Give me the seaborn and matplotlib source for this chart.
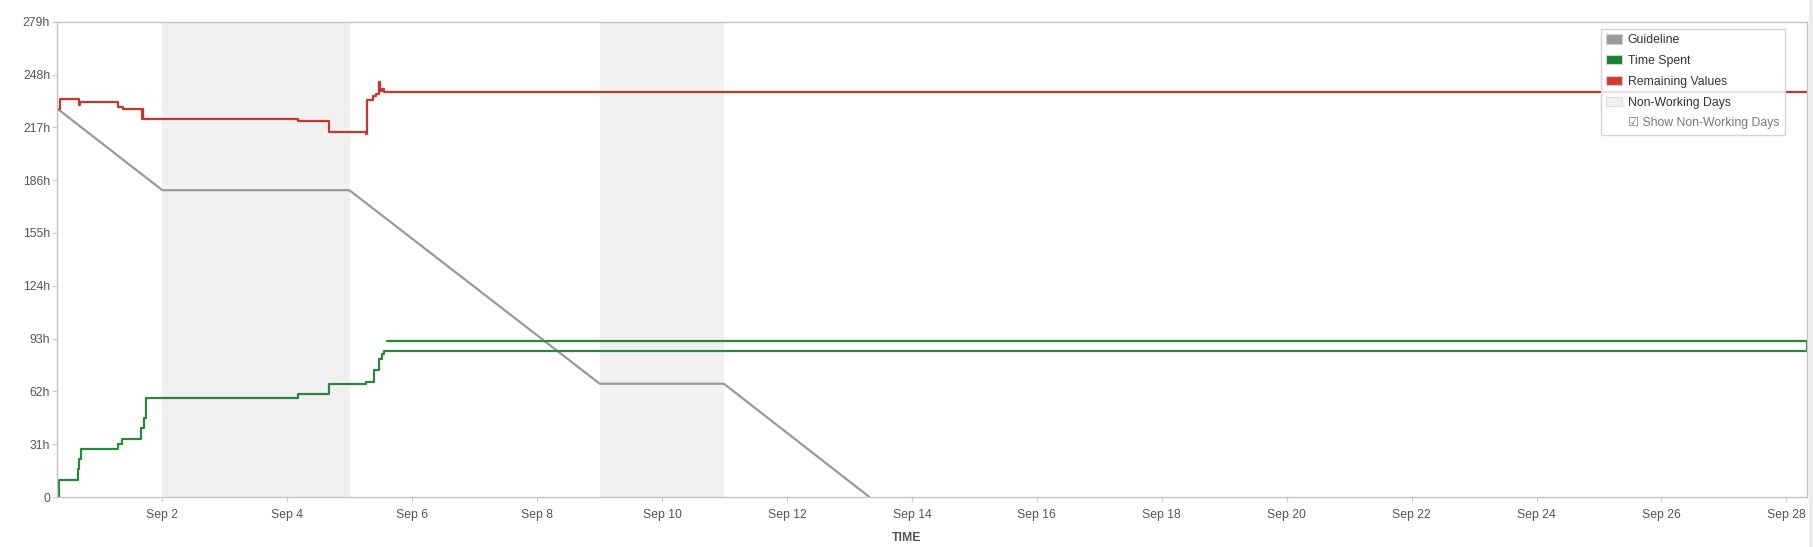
import pandas as pd
import matplotlib.pyplot as plt
import seaborn as sns
from matplotlib.patches import Patch, Rectangle

# dias (dia do mês de setembro, fracionário) e horas
guide_day = [0.332, 2.0, 4.995, 9.003, 10.99, 13.32]
guide_hours = [227.6, 180.1, 180.1, 66.5, 66.5, 0.0]

spent_day = [0.332, 0.348, 0.647, 0.668, 0.706, 1.289, 1.348, 1.663, 1.701, 1.733,
             4.176, 4.663, 5.262, 5.385, 5.476, 5.513, 5.556, 28.336, 5.594]
spent_hours = [0.0, 10.2, 16.4, 22.5, 28.2, 31.3, 34.2, 40.3, 46.5, 58.3,
               60.2, 66.1, 67.6, 74.7, 81.3, 83.9, 85.6, 91.7, 91.7]

remaining_day = [0.332, 0.358, 0.663, 0.679, 1.289, 1.369, 1.668, 1.685, 1.695,
                 4.166, 4.663, 5.262, 5.278, 5.369, 5.422, 5.465, 5.492, 5.519, 5.556, 28.336]
remaining_hours = [227.6, 233.8, 230.0, 231.7, 228.9, 227.8, 221.7, 227.8, 221.7,
                   220.7, 214.5, 213.3, 232.9, 235.4, 236.8, 243.6, 238.1, 239.5, 237.5, 237.5]

nonwork_start = [2, 9]
nonwork_end = [5, 11]

x_ticks = list(range(2, 29, 2))
x_labels = ['Sep %d' % d for d in x_ticks]
y_ticks = list(range(0, 280, 31))
y_labels = ['0'] + ['%dh' % v for v in y_ticks[1:]]

GREY = '#9a9a9a'
GREEN = '#2a8740'
RED = '#c8372d'
SHADE = '#f1f1f1'

sns.set_style('white')
plt.rcParams['font.family'] = ['Liberation Sans', 'DejaVu Sans']

fig = plt.figure(figsize=(18.13, 5.47), dpi=100)
ax = fig.add_axes([0.0315, 0.0914, 0.9969 - 0.0315, 0.9603 - 0.0914])

# dias não úteis
for s, e in zip(nonwork_start, nonwork_end):
    ax.axvspan(s, e, color=SHADE, zorder=0, lw=0)

guide = pd.DataFrame({'day': guide_day, 'hours': guide_hours})
spent = pd.DataFrame({'day': spent_day, 'hours': spent_hours})
remaining = pd.DataFrame({'day': remaining_day, 'hours': remaining_hours})

sns.lineplot(data=guide, x='day', y='hours', sort=False, estimator=None,
             color=GREY, lw=1.6, ax=ax, legend=False)
sns.lineplot(data=spent, x='day', y='hours', sort=False, estimator=None,
             drawstyle='steps-post', color=GREEN, lw=1.6, ax=ax, legend=False)
sns.lineplot(data=remaining, x='day', y='hours', sort=False, estimator=None,
             drawstyle='steps-post', color=RED, lw=1.6, ax=ax, legend=False)

ax.set_xlim(0.316, 28.336)
ax.set_ylim(0, 279)
ax.set_xticks(x_ticks)
ax.set_xticklabels(x_labels)
ax.set_yticks(y_ticks)
ax.set_yticklabels(y_labels)
ax.tick_params(axis='both', colors='#cccccc', labelcolor='#555555', labelsize=8.8,
               length=3.5, width=0.8)
ax.tick_params(axis='x', bottom=True, pad=5)
ax.tick_params(axis='y', left=True, pad=1.5)

for sp in ax.spines.values():
    sp.set_color('#c4c4c4')
    sp.set_linewidth(1)

ax.set_ylabel('')
ax.set_xlabel('TIME', fontsize=8.8, fontweight='bold', color='#555555')
ax.xaxis.set_label_coords(0.4854, -0.086)
ax.xaxis.label.set_va('center')

handles = [
    Patch(facecolor=GREY, edgecolor='#d0d0d0', lw=0.8),
    Patch(facecolor='#1c8034', edgecolor='#d0d0d0', lw=0.8),
    Patch(facecolor='#d13b30', edgecolor='#d0d0d0', lw=0.8),
    Patch(facecolor=SHADE, edgecolor='#dddddd', lw=0.8),
    Patch(facecolor='none', edgecolor='none'),
]
labels = ['Guideline', 'Time Spent', 'Remaining Values', 'Non-Working Days',
          '\u2611 Show Non-Working Days']
leg = ax.legend(handles, labels, loc='upper right', bbox_to_anchor=(0.987, 0.9855),
                borderaxespad=0, fontsize=8.8, frameon=True, fancybox=False,
                framealpha=0.85, edgecolor='#cccccc', handlelength=1.3,
                handleheight=0.82, handletextpad=0.45, labelspacing=0.72,
                borderpad=0.45)
for t in leg.get_texts():
    t.set_color('#333333')
leg.get_texts()[-1].set_color('#777777')

# faixa cinza da borda direita
fig.patches.append(Rectangle((1809 / 1813, 0), 4 / 1813, 1, transform=fig.transFigure,
                             color='#ececec', zorder=0))

fig.savefig('out.png', dpi=100)
